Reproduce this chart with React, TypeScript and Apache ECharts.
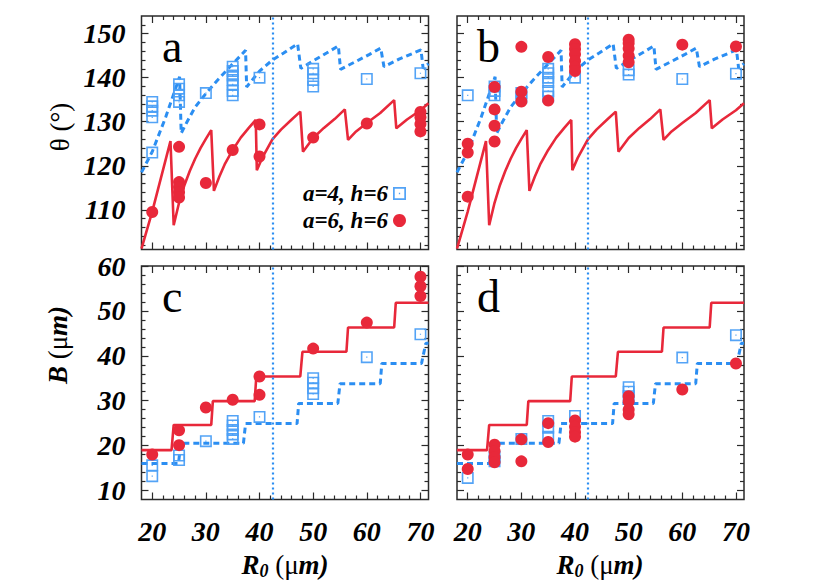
import React, { useEffect, useRef } from 'react';
import * as echarts from 'echarts';

// ---------- tick values ----------
const X_MAJOR = [20, 30, 40, 50, 60, 70];
const X_MINOR = [22, 24, 26, 28, 32, 34, 36, 38, 42, 44, 46, 48, 52, 54, 56, 58, 62, 64, 66, 68];
const THETA_MAJOR = [110, 120, 130, 140, 150];
const THETA_MINOR = [102, 104, 106, 108, 112, 114, 116, 118, 122, 124, 126, 128, 132, 134, 136, 138, 142, 144, 146, 148, 152];
const B_MAJOR = [10, 20, 30, 40, 50, 60];
const B_MINOR = [12, 14, 16, 18, 22, 24, 26, 28, 32, 34, 36, 38, 42, 44, 46, 48, 52, 54, 56, 58];

const VLINE_X = 42.4;

// ---------- model curves ----------
const thetaModelA6 = [
  [18, 101.2], [20, 109.6], [23.4, 125.6],
  [24, 106.5], [25, 111.6], [26, 115.6], [27, 118.8], [28, 121.6], [29, 124], [30, 126.1], [31, 128.1],
  [31.5, 114.3], [32.5, 117.5], [33.5, 120.3], [35, 123.6], [36.5, 126.4], [38, 128.6], [39.3, 130.4],
  [39.5, 119], [40.5, 121.8], [42.4, 126], [44, 128.2], [46, 130.5], [47.6, 132.3],
  [48.1, 123.2], [50, 126.3], [52, 128.6], [54, 130.6], [55.9, 132.8],
  [56.5, 125.9], [58, 127.8], [60, 129.7], [62.5, 132], [65.1, 134.9],
  [65.5, 128.5], [67.5, 130.5], [70, 132.6], [71.5, 134.2],
];
const thetaModelA4 = [
  [18, 118.5], [20, 123.2], [22.5, 131], [25.1, 140.2],
  [25.4, 127.4], [26.5, 130], [28, 133.3], [30, 136.4], [32, 139.2], [34.5, 142.5], [37.4, 146.2],
  [37.6, 137.9], [40, 141.5], [42.4, 144], [44.5, 145.6], [47.1, 147.7],
  [47.7, 142.1], [50, 143.8], [52.5, 145.6], [54.7, 147.2],
  [55.1, 141.9], [58, 143.7], [60.5, 145.3], [62.6, 146.7],
  [63.2, 142.5], [66, 144.2], [70.1, 146.3],
  [70.5, 142.1], [71.5, 143.2],
];
const bModelA6 = [
  [18, 19.0], [23.6, 19.0], [24.0, 24.6], [31.0, 24.6], [31.3, 29.9], [39.1, 29.9], [39.4, 35.4],
  [47.6, 35.4], [48.0, 40.9], [56.2, 40.9], [56.5, 46.3], [65.1, 46.3], [65.4, 51.8], [71.5, 51.8],
];
const bModelA4 = [
  [18, 16.0], [24.9, 16.0], [25.3, 20.5], [37.0, 20.5], [37.4, 24.9], [47.0, 24.9], [47.3, 29.4],
  [54.6, 29.4], [55.0, 33.8], [62.5, 33.8], [62.8, 38.3], [70.2, 38.3], [71.0, 42.8], [71.5, 42.8],
];

// ---------- experimental points ----------
const thetaA4a = [
  [20, 134.5], [20, 133.5], [20, 132.5], [20, 131], [20, 123],
  [25, 138.5], [25, 137.5], [25, 136], [25, 134.5],
  [30, 136.5],
  [35, 142.5], [35, 141.5], [35, 140.5], [35, 139.5], [35, 138.5], [35, 137], [35, 136],
  [40, 140],
  [50, 142], [50, 141], [50, 139.5], [50, 138],
  [60, 139.7], [70, 141],
];
const thetaA6a = [
  [20, 109.5], [25, 124.3], [25, 116.3], [25, 115.2], [25, 114], [25, 112.8], [30, 116.1], [35, 123.6],
  [40, 129.4], [40, 122.1], [50, 126.4], [60, 129.6], [70, 132.2], [70, 131], [70, 129.5], [70, 127.8],
];
const thetaA4b = [
  [20, 136], [25, 138], [25, 137], [25, 136], [30, 136.5], [30, 135.5],
  [35, 142], [35, 141], [35, 140], [35, 139], [35, 137], [35, 135.7], [40, 140],
  [50, 141.7], [50, 140.7], [60, 139.7], [70, 140.9],
];
const thetaA6b = [
  [20, 125], [20, 123], [20, 113], [25, 137.9], [25, 132.8], [25, 129.1], [25, 125.5],
  [30, 147], [30, 136.8], [30, 134.6], [35, 144.7], [35, 134.8],
  [40, 147.6], [40, 146.5], [40, 145.3], [40, 143.8], [40, 142.5], [40, 141.5],
  [50, 148.6], [50, 147.8], [50, 146.6], [50, 145], [50, 143.5], [60, 147.5], [70, 147.1],
];
const bA4c = [
  [20, 15.6], [20, 13.2], [25, 17.8], [25, 16.8], [30, 21], [35, 25.5], [35, 24.5], [35, 23.5], [35, 22.5],
  [35, 21.5], [40, 26.4], [50, 35], [50, 34], [50, 32.8], [50, 31.5], [60, 39.7], [70, 44.8],
];
const bA6c = [
  [20, 18], [25, 23.4], [25, 20.1], [30, 28.5], [35, 30.2], [40, 35.4], [40, 31.3], [50, 41.6], [60, 47.4],
  [70, 57.6], [70, 55.5], [70, 53.3],
];
const bA4d = [
  [20, 12.8], [25, 17.5], [25, 16.5], [30, 21.5], [35, 25.5], [35, 24], [35, 22], [40, 26.6],
  [50, 33], [50, 32], [50, 31], [60, 39.6], [70, 44.6],
];
const bA6d = [
  [20, 18], [20, 14.8], [25, 20.2], [25, 18.8], [25, 17.4], [25, 16.3], [30, 21.4], [30, 16.5],
  [35, 25], [35, 20.8], [40, 25.6], [40, 24.2], [40, 23], [40, 22],
  [50, 31], [50, 29.8], [50, 28], [50, 27], [60, 32.5], [70, 38.3],
];

const NAME_A4 = 'a=4, h=6';
const NAME_A6 = 'a=6, h=6';

const SERIF = '"Liberation Serif", "Times New Roman", Times, serif';
const RED = '#e8283a';
const BLUE = '#2b8ef2';
const SQ_BLUE = '#4a9ef5';
const FRAME = '#2a2a2a';
const SQUARE_SYMBOL = 'path://M0 0H12V12H0Z M1.6 1.6V10.4H10.4V1.6Z M5.4 5.4H6.6V6.6H5.4Z';

const GRIDS = [
  { left: 141.5, top: 16, width: 287, height: 233.5 },
  { left: 457, top: 16, width: 287, height: 233.5 },
  { left: 141.5, top: 266, width: 287, height: 233.5 },
  { left: 457, top: 266, width: 287, height: 233.5 },
];

function axesFor(grid: number, dim: 'x' | 'y', min: number, max: number, major: number[], minor: number[], showLabels: boolean) {
  const sides = dim === 'x' ? ['bottom', 'top'] : ['left', 'right'];
  const common = {
    type: 'value', gridIndex: grid, min, max,
    splitLine: { show: false }, axisLine: { show: false },
  };
  const tick = (vals: number[], len: number) => ({
    show: true, inside: true, length: len, customValues: vals,
    lineStyle: { color: FRAME, width: 1.2 },
  });
  const label = {
    show: showLabels, customValues: major,
    margin: dim === 'x' ? 18 : 16,
    fontFamily: SERIF, fontSize: 28, fontStyle: 'italic', fontWeight: 'bold', color: '#000',
  };
  return [
    { ...common, position: sides[0], axisTick: tick(major, 7), axisLabel: label },
    { ...common, position: sides[1], axisTick: tick(major, 7), axisLabel: { show: false } },
    { ...common, position: sides[0], axisTick: tick(minor, 4), axisLabel: { show: false } },
    { ...common, position: sides[1], axisTick: tick(minor, 4), axisLabel: { show: false } },
  ];
}

function panelSeries(grid: number, modelA6: number[][], modelA4: number[][], expA4: number[][], expA6: number[][]) {
  const idx = { xAxisIndex: grid * 4, yAxisIndex: grid * 4 };
  return [
    {
      type: 'line', name: 'model a=6', ...idx, data: modelA6, showSymbol: false, symbol: 'none',
      lineStyle: { color: RED, width: 2.6 }, z: 2,
      markLine: {
        silent: true, symbol: 'none', label: { show: false },
        lineStyle: { color: BLUE, width: 2.2, type: [2, 3] },
        data: [{ xAxis: VLINE_X }],
      },
    },
    {
      type: 'line', name: 'model a=4', ...idx, data: modelA4, showSymbol: false, symbol: 'none',
      lineStyle: { color: BLUE, width: 3, type: [6, 4] }, z: 2,
    },
    {
      type: 'scatter', name: NAME_A4, ...idx, data: expA4, symbol: SQUARE_SYMBOL, symbolSize: 12,
      itemStyle: { color: SQ_BLUE, opacity: 0.95 }, z: 3,
    },
    {
      type: 'scatter', name: NAME_A6, ...idx, data: expA6, symbol: 'circle', symbolSize: 12,
      itemStyle: { color: RED, opacity: 1 }, z: 4,
    },
  ];
}

export default function App() {
  const ref = useRef<HTMLDivElement>(null);
  useEffect(() => {
    if (!ref.current) return;
    const chart = echarts.init(ref.current, null, { renderer: 'svg' });
    const letter = (t: string, x: number, y: number) => ({
      type: 'text', x, y,
      style: { text: t, fontFamily: SERIF, fontSize: 46, fill: '#000', align: 'left', verticalAlign: 'middle' },
      z: 10,
    });
    const r0Title = (x: number) => ({
      type: 'text', x, y: 565,
      style: {
        text: '{r|R}{s|0}{p| (μ}{m|m)}',
        align: 'center', verticalAlign: 'middle',
        rich: {
          r: { fontFamily: SERIF, fontSize: 27, fontStyle: 'italic', fontWeight: 'bold', fill: '#000' },
          s: { fontFamily: SERIF, fontSize: 18, fontStyle: 'italic', fontWeight: 'bold', fill: '#000', verticalAlign: 'bottom', lineHeight: 30 },
          p: { fontFamily: SERIF, fontSize: 27, fill: '#000' },
          m: { fontFamily: SERIF, fontSize: 27, fontStyle: 'italic', fontWeight: 'bold', fill: '#000' },
        },
      },
    });
    const option: any = {
      animation: false,
      backgroundColor: '#fff',
      grid: GRIDS.map((g) => ({ ...g, show: true, borderColor: FRAME, borderWidth: 1.5, outerBoundsMode: 'none', containLabel: false })),
      xAxis: [
        ...axesFor(0, 'x', 18, 71.5, X_MAJOR, X_MINOR, false),
        ...axesFor(1, 'x', 18, 71.5, X_MAJOR, X_MINOR, false),
        ...axesFor(2, 'x', 18, 71.5, X_MAJOR, X_MINOR, true),
        ...axesFor(3, 'x', 18, 71.5, X_MAJOR, X_MINOR, true),
      ],
      yAxis: [
        ...axesFor(0, 'y', 101, 154, THETA_MAJOR, THETA_MINOR, true),
        ...axesFor(1, 'y', 101, 154, THETA_MAJOR, THETA_MINOR, false),
        ...axesFor(2, 'y', 8, 60, B_MAJOR, B_MINOR, true),
        ...axesFor(3, 'y', 8, 60, B_MAJOR, B_MINOR, false),
      ],
      legend: {
        left: 298, top: 177, orient: 'vertical', align: 'right', itemGap: 4,
        itemWidth: 13, itemHeight: 13, selectedMode: false,
        data: [NAME_A4, NAME_A6],
        textStyle: { fontFamily: SERIF, fontSize: 23, fontStyle: 'italic', fontWeight: 'bold', color: '#000' },
      },
      series: [
        ...panelSeries(0, thetaModelA6, thetaModelA4, thetaA4a, thetaA6a),
        ...panelSeries(1, thetaModelA6, thetaModelA4, thetaA4b, thetaA6b),
        ...panelSeries(2, bModelA6, bModelA4, bA4c, bA6c),
        ...panelSeries(3, bModelA6, bModelA4, bA4d, bA6d),
      ],
      graphic: [
        letter('a', 162, 46),
        letter('b', 477, 46),
        letter('c', 162, 296),
        letter('d', 477, 296),
        {
          type: 'text', x: 60, y: 127, rotation: Math.PI / 2,
          style: { text: 'θ (°)', fontFamily: SERIF, fontSize: 27, fill: '#000', align: 'center', verticalAlign: 'middle' },
        },
        {
          type: 'text', x: 58, y: 345, rotation: Math.PI / 2,
          style: {
            text: '{b|B}{p| (μ}{m|m)}', align: 'center', verticalAlign: 'middle',
            rich: {
              b: { fontFamily: SERIF, fontSize: 27, fontStyle: 'italic', fontWeight: 'bold', fill: '#000' },
              p: { fontFamily: SERIF, fontSize: 27, fill: '#000' },
              m: { fontFamily: SERIF, fontSize: 27, fontStyle: 'italic', fontWeight: 'bold', fill: '#000' },
            },
          },
        },
        r0Title(285),
        r0Title(600),
      ],
    };
    chart.setOption(option);
    return () => chart.dispose();
  }, []);
  return <div ref={ref} style={{ position: 'fixed', left: 0, top: 0, width: 830, height: 581 }} />;
}
